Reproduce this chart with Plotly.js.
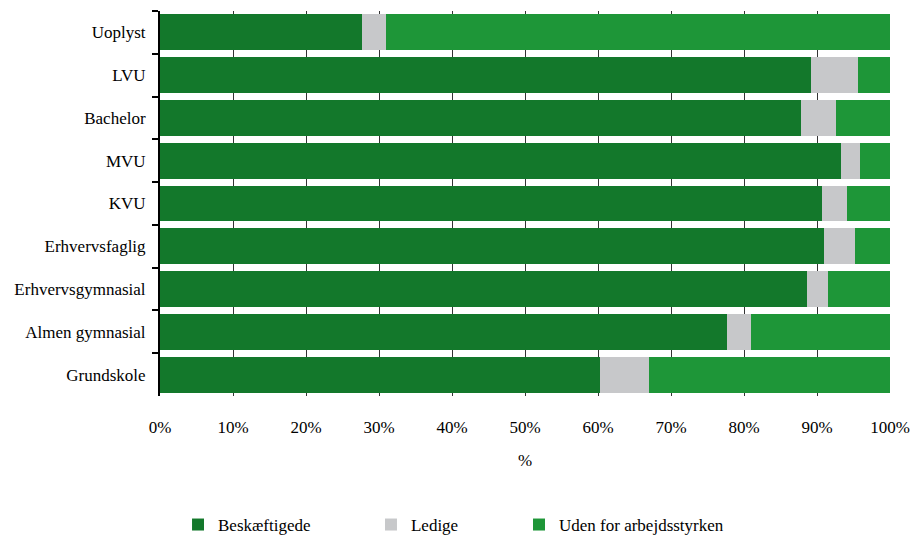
<!DOCTYPE html>
<html>
<head>
<meta charset="utf-8">
<script src="https://cdn.plot.ly/plotly-3.0.1.min.js"></script>
<style>html,body{margin:0;padding:0;background:#fff;}#chart{width:913px;height:535px;}</style>
</head>
<body>
<div id="chart"></div>
<script>
const categories = ["Uoplyst", "LVU", "Bachelor", "MVU", "KVU", "Erhvervsfaglig", "Erhvervsgymnasial", "Almen gymnasial", "Grundskole"];
const beskaeftigede = [27.7, 89.2, 87.8, 93.3, 90.7, 91.0, 88.6, 77.7, 60.3];
const ledige = [3.3, 6.4, 4.8, 2.6, 3.4, 4.2, 2.9, 3.3, 6.7];
const udenFor = [69.0, 4.4, 7.4, 4.1, 5.9, 4.8, 8.5, 19.0, 33.0];
const seriesNames = ["Beskæftigede", "Ledige", "Uden for arbejdsstyrken"];
const xTickVals = [0, 10, 20, 30, 40, 50, 60, 70, 80, 90, 100];
const xTickText = ["0%", "10%", "20%", "30%", "40%", "50%", "60%", "70%", "80%", "90%", "100%"];

const colors = ["#13782B", "#C7C8CA", "#1E9638"];
const fontFam = "'Liberation Serif', serif";

const traces = [beskaeftigede, ledige, udenFor].map((vals, i) => ({
  type: "bar",
  orientation: "h",
  name: seriesNames[i],
  y: categories,
  x: vals,
  marker: {color: colors[i], line: {width: 0}},
  legend: i === 0 ? "legend" : ("legend" + (i + 1)),
  hoverinfo: "name+x"
}));

const legendBase = {orientation: "h", yanchor: "middle", y: -0.335, xanchor: "left",
  font: {family: fontFam, size: 17, color: "#000"}, bgcolor: "rgba(0,0,0,0)", borderwidth: 0};

const layout = {
  width: 913, height: 535,
  margin: {l: 160, r: 23, t: 11, b: 139, autoexpand: false},
  barmode: "stack",
  bargap: 0.16,
  paper_bgcolor: "#fff", plot_bgcolor: "#fff",
  font: {family: fontFam, size: 17, color: "#000"},
  xaxis: {
    range: [0, 100], tickvals: xTickVals, ticktext: xTickText,
    showgrid: true, gridcolor: "#333", gridwidth: 1,
    zeroline: false, showline: false, ticks: "",
    ticklabelstandoff: 19,
    tickfont: {family: fontFam, size: 17, color: "#000"},
    title: {text: "%", font: {family: fontFam, size: 17, color: "#000"}, standoff: 18},
    fixedrange: true
  },
  yaxis: {
    autorange: "reversed", type: "category",
    showline: true, linecolor: "#000", linewidth: 2,
    ticks: "outside", tickson: "boundaries", ticklen: 6, tickwidth: 2, tickcolor: "#000",
    showgrid: false, zeroline: false,
    tickfont: {family: fontFam, size: 17, color: "#000"},
    ticklabelstandoff: 9,
    fixedrange: true
  },
  showlegend: true,
  legend: Object.assign({}, legendBase, {x: 0.0247}),
  legend2: Object.assign({}, legendBase, {x: 0.289}),
  legend3: Object.assign({}, legendBase, {x: 0.4918})
};

Plotly.newPlot("chart", traces, layout, {displayModeBar: false, staticPlot: false});
</script>
</body>
</html>
